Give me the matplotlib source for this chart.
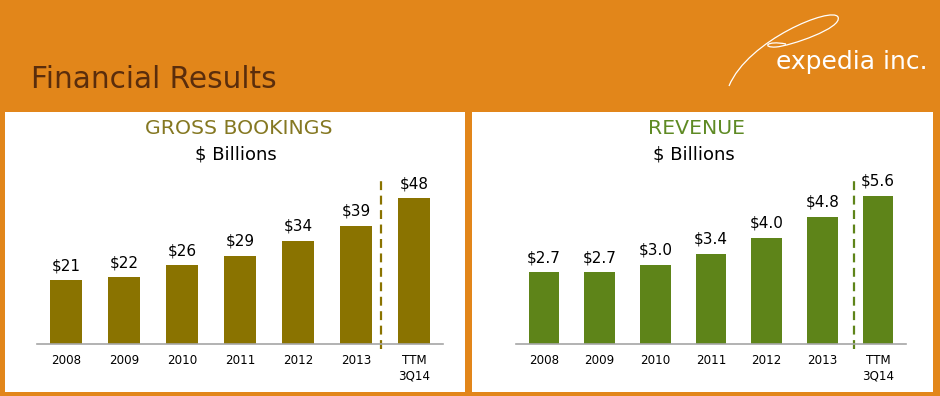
import matplotlib.pyplot as plt
from matplotlib.patches import Rectangle, PathPatch
from matplotlib.path import Path

# chart data
years = ["2008", "2009", "2010", "2011", "2012", "2013", "TTM\n3Q14"]
gross_bookings = [21, 22, 26, 29, 34, 39, 48]
revenue = [2.7, 2.7, 3.0, 3.4, 4.0, 4.8, 5.6]

orange = "#E2861A"
olive = "#8A7300"
green = "#5E8419"

W, H = 940, 396


def fx(px):
    return px / W


def fy(py):
    return 1 - py / H


fig = plt.figure(figsize=(9.4, 3.96), dpi=100, facecolor=orange)

# white panels
for left, right in [(5, 465), (472, 933)]:
    fig.patches.append(Rectangle((fx(left), fy(392)), fx(right) - fx(left), fy(112) - fy(392),
                                 transform=fig.transFigure, facecolor="white", edgecolor="none", zorder=-1))

fig.text(fx(31), fy(79), "Financial Results", fontsize=21.3, color="#5A2D0C", va="center", ha="left")

# logo
fig.text(fx(928), fy(62), "expedia inc.", fontsize=18, color="white", va="center", ha="right")
verts = [(fx(729), fy(86)), (fx(748), fy(40)), (fx(832), fy(6)), (fx(838), fy(17)),
         (fx(843), fy(28)), (fx(790), fy(46)), (fx(776), fy(47)),
         (fx(762), fy(48)), (fx(766), fy(40)), (fx(786), fy(44))]
codes = [Path.MOVETO] + [Path.CURVE4] * 9
fig.patches.append(PathPatch(Path(verts, codes), transform=fig.transFigure, facecolor="none",
                             edgecolor="white", lw=0.9))


def panel(x0, x1, values, color, title, title_color, ymax, fmt, cx, divider):
    ax = fig.add_axes([fx(x0), fy(344), fx(x1) - fx(x0), fy(162) - fy(344)])
    ax.set_zorder(2)
    ax.set_facecolor("none")
    x = range(len(values))
    ax.bar(x, values, width=0.55, color=color)
    for xi, v in zip(x, values):
        ax.annotate(fmt.format(v), (xi, v), xytext=(0, 10.5), textcoords="offset points",
                    ha="center", va="center", fontsize=11, color="black")
    ax.set_xlim(-0.5, 6.5)
    ax.set_ylim(0, ymax)
    ax.axvline(divider, ymin=-0.03, ymax=0.92, color=color, lw=1.6, dashes=(4, 2.5), clip_on=False)
    ax.set_xticks(list(x))
    ax.set_xticklabels(years, fontsize=8.6, linespacing=1.3)
    ax.tick_params(axis="x", length=0, pad=7)
    ax.set_yticks([])
    for s in ["top", "left", "right"]:
        ax.spines[s].set_visible(False)
    ax.spines["bottom"].set_color("#A6A6A6")
    ax.spines["bottom"].set_linewidth(1.2)
    fig.text(fx(cx), fy(129), title, fontsize=14.7, color=title_color, ha="center", va="center")
    fig.text(fx(cx - 3), fy(155), "$ Billions", fontsize=13, color="black", ha="center", va="center")
    return ax


panel(37, 443, gross_bookings, olive, "GROSS BOOKINGS", "#857822", 60, "${:.0f}", 239, 5.43)
panel(516, 906, revenue, green, "REVENUE", "#5E8A24", 6.87, "${:.1f}", 697, 5.56)

fig.savefig("out.png", dpi=100, facecolor=orange)
